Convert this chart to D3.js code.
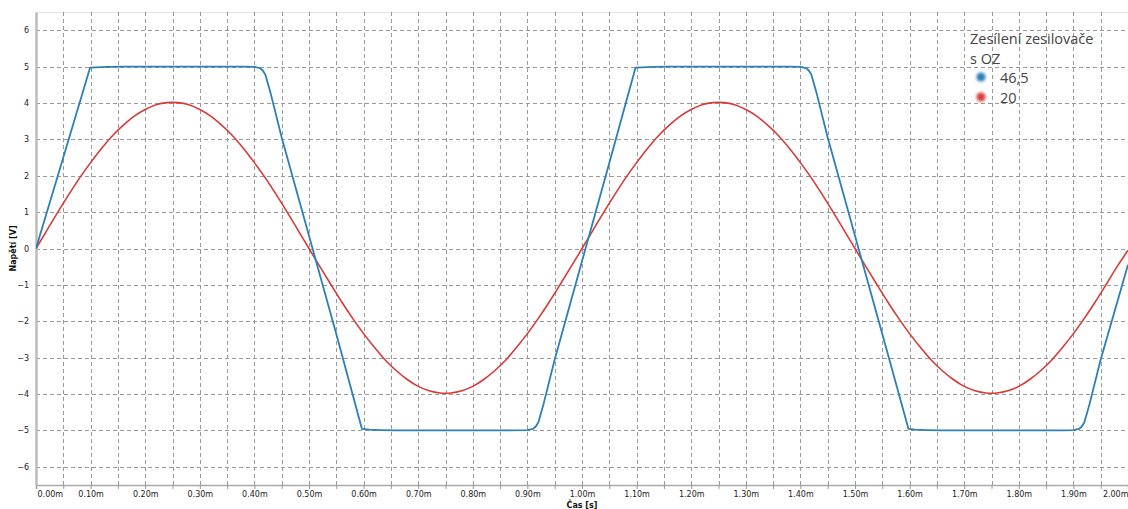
<!DOCTYPE html>
<html>
<head>
<meta charset="utf-8">
<script src="https://cdn.jsdelivr.net/npm/d3@7"></script>
<style>
  body { margin: 0; background: #fff; }
  svg { display: block; }
</style>
</head>
<body>
<div id="chart"></div>
<script>
/** data (time in ms, voltage in V) */
const redTime = d3.range(101).map(i => i * 0.02);
const redVolt = [
  0, 0.50, 1.00, 1.48, 1.94, 2.36, 2.75, 3.10, 3.39, 3.64, 3.82, 3.95, 4.01,
  4.01, 3.95, 3.82, 3.64, 3.39, 3.10, 2.75, 2.36, 1.94, 1.48, 1.00, 0.50, 0,
  -0.50, -0.99, -1.47, -1.92, -2.34, -2.72, -3.07, -3.36, -3.60, -3.79, -3.91, -3.97,
  -3.97, -3.91, -3.79, -3.60, -3.36, -3.07, -2.72, -2.34, -1.92, -1.47, -0.99, -0.50, 0,
  0.50, 1.00, 1.48, 1.94, 2.36, 2.75, 3.10, 3.39, 3.64, 3.82, 3.95, 4.01,
  4.01, 3.95, 3.82, 3.64, 3.39, 3.10, 2.75, 2.36, 1.94, 1.48, 1.00, 0.50, 0,
  -0.50, -0.99, -1.47, -1.92, -2.34, -2.72, -3.07, -3.36, -3.60, -3.79, -3.91, -3.97,
  -3.97, -3.91, -3.79, -3.60, -3.36, -3.07, -2.72, -2.34, -1.92, -1.47, -0.99, -0.50, -0.05
];

const blueTime = [
  0, 0.05, 0.099, 0.11, 0.13, 0.16, 0.20, 0.30, 0.38, 0.40, 0.41, 0.415, 0.42, 0.43, 0.45,
  0.50, 0.55, 0.597, 0.61, 0.63, 0.66, 0.70, 0.85, 0.90, 0.91, 0.915, 0.92, 0.93, 0.95,
  1.00, 1.05, 1.098, 1.11, 1.13, 1.16, 1.20, 1.38, 1.40, 1.41, 1.415, 1.42, 1.43, 1.45,
  1.50, 1.55, 1.598, 1.61, 1.63, 1.66, 1.70, 1.88, 1.90, 1.91, 1.915, 1.92, 1.93, 1.95, 2.00
];
const blueVolt = [
  0, 2.5, 4.97, 4.98, 4.99, 5.0, 5.0, 5.0, 5.0, 4.99, 4.96, 4.9, 4.78, 4.25, 3.05,
  0.35, -2.35, -4.96, -4.98, -4.99, -5.0, -5.0, -5.0, -4.99, -4.96, -4.9, -4.78, -4.25, -3.05,
  -0.35, 2.35, 4.97, 4.98, 4.99, 5.0, 5.0, 5.0, 4.99, 4.96, 4.9, 4.78, 4.25, 3.05,
  0.35, -2.35, -4.96, -4.98, -4.99, -5.0, -5.0, -5.0, -4.99, -4.96, -4.9, -4.78, -4.25, -3.05, -0.45
];

const xTicks = d3.range(21).map(i => i * 0.1);
const xMinorTicks = d3.range(41).map(i => i * 0.05);
const yTicks = [-6, -5, -4, -3, -2, -1, 0, 1, 2, 3, 4, 5, 6];

const seriesNames = ['46,5', '20'];
const seriesColors = ['#2c7fb8', '#d83a3a'];
const legendTitle = ['Zesílení zesilovače', 's OZ'];

/** canvas */
const width = 1128, height = 509;
const margin = { top: 12, right: 0, bottom: 24, left: 36 };
const drawW = width - margin.left - margin.right;
const drawH = height - margin.top - margin.bottom;

const svg = d3.select('#chart').append('svg')
  .attr('width', width)
  .attr('height', height);

const defs = svg.append('defs');
defs.append('filter').attr('id', 'blur')
  .attr('x', '-50%').attr('y', '-50%').attr('width', '200%').attr('height', '200%')
  .append('feGaussianBlur').attr('stdDeviation', 1.5);
defs.append('clipPath').attr('id', 'clip')
  .append('rect').attr('width', drawW).attr('height', drawH);

const g = svg.append('g')
  .attr('transform', `translate(${margin.left}, ${margin.top})`);

/** scales */
const xScale = d3.scaleLinear().domain([0, 2.0]).range([0, drawW]);
const yScale = d3.scaleLinear().domain([-6.5, 6.5]).range([drawH, 0]);

/** top border */
g.append('line')
  .attr('x1', 0).attr('x2', drawW).attr('y1', 0.5).attr('y2', 0.5)
  .attr('stroke', '#e4e4e4').attr('stroke-width', 1);

/** grid */
g.append('g').selectAll('line')
  .data(xMinorTicks.filter(d => d > 0))
  .enter().append('line')
  .attr('x1', d => Math.round(xScale(d)) + 0.5)
  .attr('x2', d => Math.round(xScale(d)) + 0.5)
  .attr('y1', 0).attr('y2', drawH)
  .attr('stroke', '#9a9a9a')
  .attr('stroke-dasharray', '4,3');

g.append('g').selectAll('line')
  .data(yTicks)
  .enter().append('line')
  .attr('x1', 0).attr('x2', drawW)
  .attr('y1', d => Math.round(yScale(d)) + 0.5)
  .attr('y2', d => Math.round(yScale(d)) + 0.5)
  .attr('stroke', '#9a9a9a')
  .attr('stroke-dasharray', '4,3');

/** axes */
const xAxis = d3.axisBottom(xScale)
  .tickValues(xMinorTicks)
  .tickSize(4)
  .tickFormat(d => (Math.round(d * 100) % 10 === 0) ? d.toFixed(2) + 'm' : '');

const xg = g.append('g')
  .attr('transform', `translate(0, ${drawH})`)
  .call(xAxis);
xg.select('.domain').attr('stroke', '#aaa').attr('stroke-width', 1.5);
xg.selectAll('.tick line').attr('stroke', '#999');
xg.selectAll('.tick text')
  .attr('fill', '#222')
  .style('font-family', 'DejaVu Sans')
  .style('font-size', '8px')
  .attr('y', 6)
  .attr('dy', '0.71em');
xg.selectAll('.tick text').filter(d => d === 0)
  .attr('text-anchor', 'start').attr('x', 1);
xg.selectAll('.tick text').filter(d => d === 2.0)
  .attr('text-anchor', 'end').attr('x', 0);

const yAxis = d3.axisLeft(yScale)
  .tickValues(yTicks)
  .tickSize(0)
  .tickPadding(7)
  .tickFormat(d => d < 0 ? '\u2212' + Math.abs(d) : d);

const yg = g.append('g').call(yAxis);
yg.select('.domain').attr('stroke', '#bbb').attr('stroke-width', 2.5);
yg.selectAll('.tick text')
  .attr('fill', '#222')
  .style('font-family', 'DejaVu Sans')
  .style('font-size', '8px');

/** axis titles */
svg.append('text')
  .attr('transform', `translate(16, ${margin.top + yScale(0)}) rotate(-90)`)
  .attr('text-anchor', 'middle')
  .style('font-family', 'DejaVu Sans')
  .style('font-size', '8px')
  .style('font-weight', 'bold')
  .attr('fill', '#111')
  .text('Napětí [V]');

svg.append('text')
  .attr('x', margin.left + xScale(1.0))
  .attr('y', 508)
  .attr('text-anchor', 'middle')
  .style('font-family', 'DejaVu Sans')
  .style('font-size', '8px')
  .style('font-weight', 'bold')
  .attr('fill', '#111')
  .text('Čas [s]');

/** lines */
const plot = g.append('g').attr('clip-path', 'url(#clip)');

const redLine = d3.line()
  .x(d => xScale(d[0]))
  .y(d => yScale(d[1]))
  .curve(d3.curveCatmullRom);

const blueLine = d3.line()
  .x(d => xScale(d[0]))
  .y(d => yScale(d[1]));

plot.append('path')
  .datum(redTime.map((t, i) => [t, redVolt[i]]))
  .attr('d', redLine)
  .attr('fill', 'none')
  .attr('stroke', seriesColors[1])
  .attr('stroke-width', 1.6);

plot.append('path')
  .datum(blueTime.map((t, i) => [t, blueVolt[i]]))
  .attr('d', blueLine)
  .attr('fill', 'none')
  .attr('stroke', seriesColors[0])
  .attr('stroke-width', 1.8)
  .attr('stroke-linejoin', 'round');

/** legend */
const legend = svg.append('g').attr('transform', 'translate(970, 0)');
legend.selectAll('.ltitle')
  .data(legendTitle)
  .enter().append('text')
  .attr('x', 0)
  .attr('y', (d, i) => 44 + i * 20)
  .style('font-family', 'Open Sans')
  .style('font-size', '14.5px')
  .attr('fill', '#444')
  .text(d => d);

legend.selectAll('circle')
  .data(seriesNames)
  .enter().append('circle')
  .attr('cx', 11)
  .attr('cy', (d, i) => 77 + i * 20)
  .attr('r', 4.5)
  .attr('fill', (d, i) => seriesColors[i])
  .attr('filter', 'url(#blur)');

legend.selectAll('.litem')
  .data(seriesNames)
  .enter().append('text')
  .attr('x', 30)
  .attr('y', (d, i) => 83 + i * 20)
  .style('font-family', 'Open Sans')
  .style('font-size', '14.5px')
  .attr('fill', '#444')
  .text(d => d);
</script>
</body>
</html>
